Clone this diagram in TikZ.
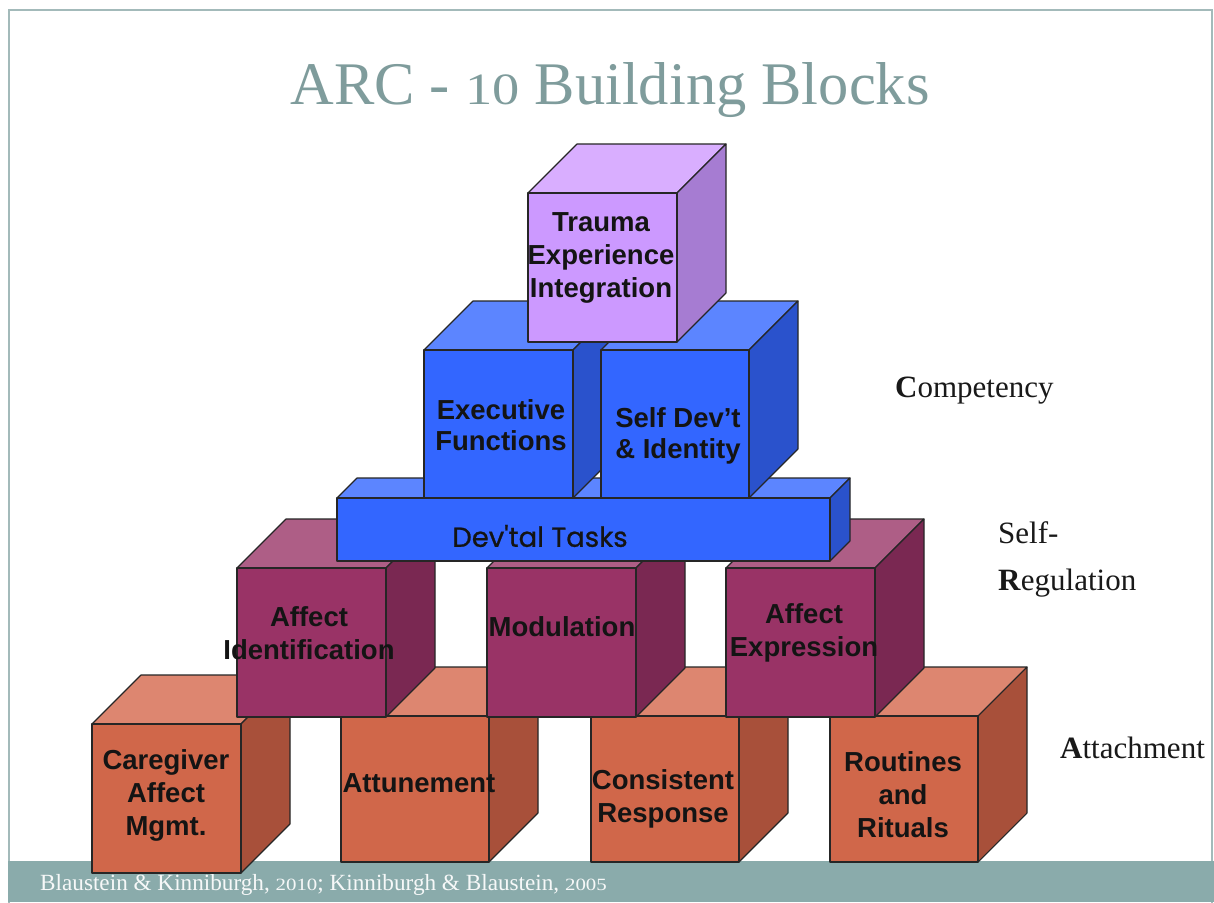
\documentclass[tikz,border=0pt]{standalone}
\usepackage{fontspec}
\usepackage{graphicx}
\setmainfont{Liberation Serif}
\newfontfamily\blockfont{Liberation Sans}
\newfontface\devfont{Poppins}[FakeBold=0.8]
\newcommand\osnum[1]{\scalebox{0.9}[0.74]{#1}}
\definecolor{orF}{HTML}{D0674A}
\definecolor{orT}{HTML}{DD8670}
\definecolor{orS}{HTML}{A8503A}
\definecolor{mrF}{HTML}{993366}
\definecolor{mrT}{HTML}{AE5E86}
\definecolor{mrS}{HTML}{7A2852}
\definecolor{blF}{HTML}{3366FF}
\definecolor{blT}{HTML}{5C85FF}
\definecolor{blS}{HTML}{2A52CC}
\definecolor{puF}{HTML}{CC99FF}
\definecolor{puT}{HTML}{D9AEFF}
\definecolor{puS}{HTML}{A67CD2}
\definecolor{titleC}{HTML}{7F9C9C}
\definecolor{footC}{HTML}{8AABAB}
\definecolor{frameC}{HTML}{A3BABA}
\newcommand\blockcube[8]{%
  \filldraw[edge, fill=#7] (#1,#2) -- ++(#5,-#5) -- ++(#3,0) -- ++(-#5,#5) -- cycle;
  \filldraw[edge, fill=#8] ({#1+#3},#2) -- ++(#5,-#5) -- ++(0,#4) -- ++(-#5,#5) -- cycle;
  \filldraw[edge, fill=#6] (#1,#2) rectangle ++(#3,#4);
}
\tikzset{
  edge/.style={draw=black!85, line width=1.1pt, line join=round},
  lbl/.style={font=\blockfont\bfseries\fontsize{27.5}{33}\selectfont, align=center, text=black!92, inner sep=0pt},
  side/.style={font=\fontsize{31}{36}\selectfont, text=black!90, inner sep=0pt, anchor=base west},
}
\begin{document}
\begin{tikzpicture}[x=1pt, y=-1pt]
\useasboundingbox (0,0) rectangle (1214,902);
\fill[white] (0,0) rectangle (1214,902);
\draw[frameC, line width=1.2pt] (9,10) rectangle (1212,905);
\fill[footC] (8,861) rectangle (1214,902);
\node[anchor=base west, inner sep=0pt, text=white!92!footC, font=\fontsize{23.2}{26}\selectfont] (foot) at (40,890)
  {Blaustein \& Kinniburgh, \osnum{2010}; Kinniburgh \& Blaustein, \osnum{2005}};
\node[anchor=base, inner sep=0pt, text=titleC, font=\fontsize{60.5}{66}\selectfont] (title) at (610,104)
  {ARC - \osnum{10} Building Blocks};
% bottom row
\blockcube{92}{724}{149}{149}{49}{orF}{orT}{orS}
\node[lbl] (care) at (166,795) {Caregiver\\Affect\\Mgmt.};
\blockcube{341}{716}{148}{146}{49}{orF}{orT}{orS}
\node[lbl] (attu) at (419,783) {Attunement};
\blockcube{591}{716}{148}{146}{49}{orF}{orT}{orS}
\node[lbl] (cons) at (663,799) {Consistent\\Response};
\blockcube{830}{716}{148}{146}{49}{orF}{orT}{orS}
\node[lbl] (rout) at (903,795) {Routines\\and\\Rituals};
% middle row
\blockcube{237}{568}{149}{149}{49}{mrF}{mrT}{mrS}
\node[lbl] (aid) at (309,633) {Affect\\Identification};
\blockcube{487}{568}{149}{149}{49}{mrF}{mrT}{mrS}
\node[lbl] (modu) at (562,627) {Modulation};
\blockcube{726}{568}{149}{149}{49}{mrF}{mrT}{mrS}
\node[lbl] (aexp) at (804,633) {Affect\\Expression};
% slab
\blockcube{337}{498}{493}{63}{20}{blF}{blT}{blS}
\node[lbl, font=\devfont\fontsize{27.5}{30}\selectfont] (dev) at (540,536) {Dev'tal Tasks};
% upper row
\blockcube{424}{350}{149}{148}{49}{blF}{blT}{blS}
\node[lbl, font=\blockfont\bfseries\fontsize{27.5}{31}\selectfont] (exec) at (501,425) {Executive\\Functions};
\blockcube{601}{350}{148}{148}{49}{blF}{blT}{blS}
\node[lbl, font=\blockfont\bfseries\fontsize{27.5}{31}\selectfont] (self) at (678,436) {Self Dev’t\\\& Identity};
% top
\blockcube{528}{193}{149}{149}{49}{puF}{puT}{puS}
\node[lbl] (trau) at (601,258) {Trauma\\Experience\\Integration};
% side labels
\node[side] (comp) at (895,397) {\textbf{C}ompetency};
\node[side] (selfr) at (998,543) {Self-};
\node[side] (regu) at (998,590) {\textbf{R}egulation};
\node[side] (atta) at (1060,758) {\textbf{A}ttachment};
\end{tikzpicture}
\end{document}
